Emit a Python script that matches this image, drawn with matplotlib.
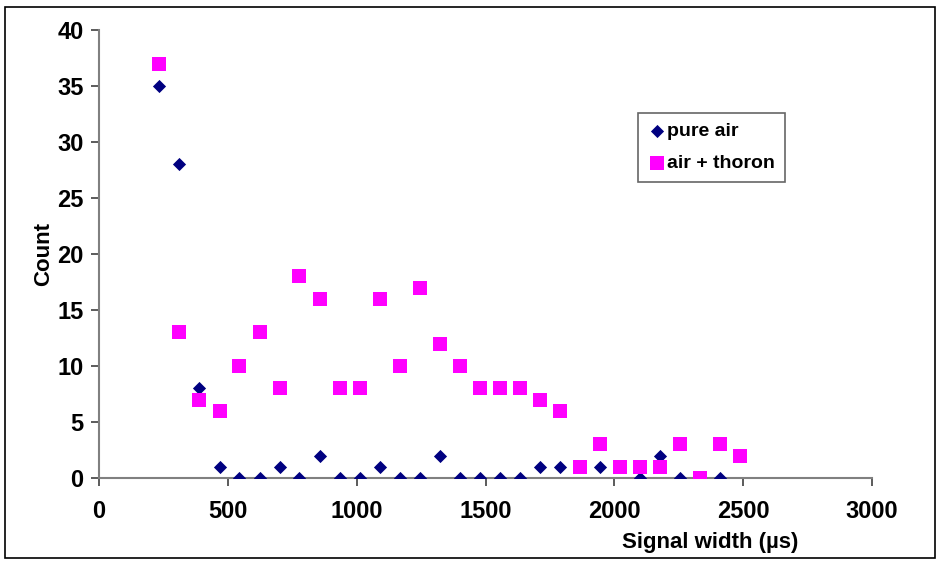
import matplotlib.pyplot as plt

# signal width bins (µs)
width = [234, 312, 390, 468, 545, 623, 701, 778, 856, 934, 1012, 1089, 1167,
         1245, 1323, 1400, 1478, 1556, 1634, 1712, 1789, 1867, 1945, 2023,
         2100, 2178, 2256, 2334, 2411, 2489]

pure_air = [35, 28, 8, 1, 0, 0, 1, 0, 2, 0, 0, 1, 0,
            0, 2, 0, 0, 0, 0, 1, 1, 1, 1, 1,
            0, 2, 0, 0, 0, None]

air_thoron = [37, 13, 7, 6, 10, 13, 8, 18, 16, 8, 8, 16, 10,
              17, 12, 10, 8, 8, 8, 7, 6, 1, 3, 1,
              1, 1, 3, 0, 3, 2]

plt.rcParams['font.family'] = ['Liberation Sans', 'DejaVu Sans']

fig = plt.figure(figsize=(9.4, 5.63), dpi=100)
ax = fig.add_axes([0.1053, 0.151, 0.8224, 0.7957])

xs_air = [x for x, v in zip(width, pure_air) if v is not None]
ys_air = [v for v in pure_air if v is not None]

ax.scatter(xs_air, ys_air, marker='D', s=45, c='#000080', linewidths=0,
           label='pure air', zorder=3)
ax.scatter(width, air_thoron, marker='s', s=110, c='#FF00FF', linewidths=0,
           label='air + thoron', zorder=4)

ax.set_xlim(0, 3000)
ax.set_ylim(0, 40)
ax.set_xticks(range(0, 3001, 500))
ax.set_yticks(range(0, 41, 5))

for side in ['top', 'right']:
    ax.spines[side].set_visible(False)
for side in ['left', 'bottom']:
    ax.spines[side].set_color('#808080')
    ax.spines[side].set_linewidth(1.5)

ax.tick_params(direction='out', length=6, width=1.2, color='#404040',
               labelsize=17)
ax.tick_params(axis='x', pad=10)
ax.tick_params(axis='y', pad=5)
for lbl in ax.get_xticklabels() + ax.get_yticklabels():
    lbl.set_fontweight('bold')

ax.set_ylabel('Count', fontsize=16, fontweight='bold', labelpad=2)
ax.set_xlabel('Signal width (µs)', fontsize=16, fontweight='bold')
ax.xaxis.set_label_coords(0.79, -0.12)

leg = ax.legend(loc='upper left', bbox_to_anchor=(0.697, 0.815),
                prop={'weight': 'bold', 'size': 14}, frameon=True,
                fancybox=False, edgecolor='#404040', borderpad=0.5,
                handletextpad=0.0, handlelength=1.0, labelspacing=0.75,
                borderaxespad=0)
leg.get_frame().set_linewidth(1.2)

# outer frame
fig.patches.append(plt.Rectangle((0.005, 0.008), 0.99, 0.98,
                                 transform=fig.transFigure, fill=False,
                                 edgecolor='black', linewidth=1.2))

fig.savefig('out.png', dpi=100)
